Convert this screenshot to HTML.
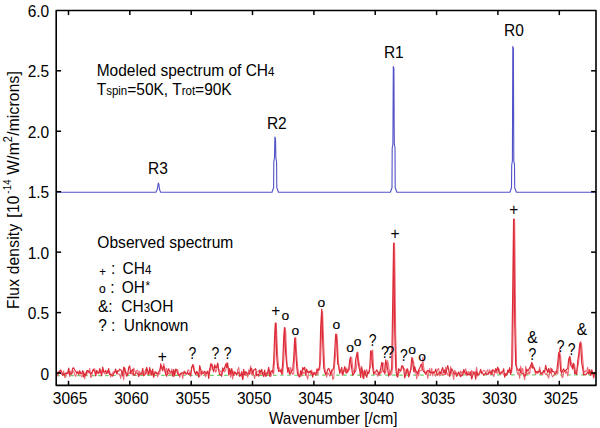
<!DOCTYPE html>
<html><head><meta charset="utf-8"><style>
html,body{margin:0;padding:0;background:#fff;}
svg{display:block;stroke-linejoin:round;font-family:"Liberation Sans",sans-serif;font-size:15.5px;fill:#000;}
</style></head><body>
<svg width="600" height="428" viewBox="0 0 600 428">
<path d="M56.2,192.2 L155.9,192.2 L157.3,189.2 L158.3,183.0 L158.9,184.5 L159.5,189.2 L160.5,192.2 L272.0,192.2 L273.6,187.7 L273.8,162.0 L274.5,158.0 L274.9,137.0 L275.5,139.0 L275.9,158.0 L276.6,162.0 L276.8,187.7 L278.5,192.2 L390.4,192.2 L392.0,187.7 L392.2,148.0 L392.9,144.0 L393.3,66.5 L393.9,68.5 L394.3,144.0 L395.0,148.0 L395.2,187.7 L396.9,192.2 L509.9,192.2 L511.5,187.7 L511.7,165.0 L512.4,161.0 L512.8,46.5 L513.4,48.5 L513.8,161.0 L514.5,165.0 L514.7,187.7 L516.4,192.2 L596.0,192.2" fill="none" stroke="#5252c8" stroke-width="1.1" stroke-linejoin="round"/>
<line x1="56.2" y1="375.6" x2="596.0" y2="374.8" stroke="#66d066" stroke-width="1.2" stroke-dasharray="3.5,3.5"/>
<path d="M56.7,373.0 L57.7,375.9 L58.7,373.0 L59.7,370.8 L60.7,373.6 L61.7,374.4 L62.7,374.7 L63.7,370.9 L64.7,377.5 L65.7,377.2 L66.7,372.9 L67.7,373.6 L68.7,371.8 L69.7,376.6 L70.7,371.1 L71.7,374.7 L72.7,371.7 L73.7,371.1 L74.7,374.8 L75.7,376.4 L76.7,372.9 L77.7,371.1 L78.7,375.0 L79.7,372.8 L80.7,373.7 L81.7,376.9 L82.7,375.8 L83.7,371.5 L84.7,378.8 L85.7,372.9 L86.7,374.9 L87.7,371.2 L88.7,372.8 L89.7,368.4 L90.7,377.5 L91.7,376.5 L92.7,369.7 L93.7,369.0 L94.7,368.7 L95.7,376.0 L96.7,371.7 L97.7,372.7 L98.7,372.1 L99.7,372.6 L100.7,370.1 L101.7,373.0 L102.7,369.2 L103.7,372.7 L104.7,373.7 L105.7,374.1 L106.7,372.3 L107.7,370.6 L108.7,373.3 L109.7,371.6 L110.7,377.0 L111.7,374.9 L112.7,372.6 L113.7,371.7 L114.7,371.1 L115.7,370.5 L116.7,372.0 L117.7,373.7 L118.7,374.2 L119.7,374.4 L120.7,378.4 L121.7,371.1 L122.7,372.9 L123.7,379.9 L124.7,368.0 L125.7,371.5 L126.7,373.3 L127.7,373.3 L128.7,374.0 L129.7,372.3 L130.7,373.9 L131.7,373.0 L132.7,374.9 L133.7,368.0 L134.7,370.6 L135.7,372.9 L136.7,370.2 L137.7,370.2 L138.7,374.5 L139.7,371.2 L140.7,374.6 L141.7,374.8 L142.7,373.7 L143.7,374.2 L144.7,372.6 L145.7,369.2 L146.7,372.8 L147.7,374.1 L148.7,371.5 L149.7,372.6 L150.7,374.8 L151.7,370.6 L152.7,374.6 L153.7,377.7 L154.7,371.5 L155.7,373.3 L156.7,372.5 L157.7,376.9 L158.7,373.6 L159.7,374.1 L160.7,366.0 L161.4,366.7 L161.7,366.3 L162.7,369.8 L163.7,363.7 L164.4,367.2 L164.7,370.7 L165.7,373.5 L166.7,368.2 L167.7,374.8 L168.7,372.6 L169.7,374.1 L170.7,373.9 L171.7,369.0 L172.7,372.3 L173.7,376.8 L174.7,371.4 L175.7,370.2 L176.7,369.4 L177.7,369.7 L178.7,373.8 L179.7,377.3 L180.7,374.0 L181.7,373.5 L182.7,378.7 L183.7,371.5 L184.7,371.1 L185.7,374.3 L186.7,374.3 L187.7,370.3 L188.7,369.9 L189.7,373.7 L190.7,373.4 L191.7,367.7 L192.7,366.0 L193.2,366.2 L193.7,365.1 L194.7,372.3 L195.7,372.4 L196.7,372.7 L197.7,372.0 L198.7,375.6 L199.7,376.5 L200.7,371.9 L201.7,375.1 L202.7,370.9 L203.7,373.1 L204.7,374.8 L205.7,376.8 L206.7,371.9 L207.7,372.7 L208.7,373.4 L209.7,368.6 L210.7,370.2 L211.7,363.7 L212.2,365.2 L212.7,366.5 L213.7,367.2 L214.7,367.3 L215.7,372.3 L216.7,369.7 L217.7,363.7 L217.9,365.7 L218.7,369.5 L219.7,370.6 L220.7,371.2 L221.7,374.1 L222.7,368.8 L223.7,371.1 L224.7,372.0 L225.7,370.3 L226.7,362.8 L226.9,363.7 L227.7,366.5 L228.7,369.2 L229.7,373.5 L230.7,377.2 L231.7,371.1 L232.7,379.1 L233.7,371.2 L234.7,372.9 L235.7,373.4 L236.7,375.6 L237.7,369.7 L238.7,367.4 L239.7,374.5 L240.7,375.0 L241.7,374.5 L242.7,379.7 L243.7,373.4 L244.7,373.6 L245.7,375.3 L246.7,373.9 L247.7,377.2 L248.7,369.7 L249.7,371.9 L250.7,365.9 L251.7,375.0 L252.7,371.9 L253.7,375.3 L254.7,378.5 L255.7,372.9 L256.7,372.2 L257.7,371.6 L258.7,370.7 L259.7,371.3 L260.7,374.6 L261.7,373.0 L262.7,373.1 L263.7,372.4 L264.7,375.3 L265.7,374.2 L266.7,372.5 L267.7,374.6 L268.7,372.5 L269.7,369.9 L270.7,376.7 L271.7,374.1 L272.7,370.4 L273.7,374.1 L274.7,359.3 L275.7,324.9 L276.2,323.1 L276.7,332.8 L277.7,356.6 L278.7,367.4 L278.9,367.2 L279.7,369.0 L280.7,371.6 L281.7,368.8 L282.7,374.3 L283.7,361.9 L284.7,334.6 L285.3,327.7 L285.7,331.8 L286.7,357.6 L287.7,372.8 L288.7,371.9 L289.7,372.8 L290.7,367.3 L291.7,371.8 L292.7,374.5 L293.7,373.3 L294.7,353.8 L295.7,337.4 L295.8,338.2 L296.7,354.4 L297.7,367.3 L298.7,374.5 L299.7,377.3 L300.7,373.0 L301.7,376.1 L302.7,371.1 L303.7,373.4 L304.7,372.7 L305.7,373.2 L306.7,375.8 L307.7,379.1 L308.7,371.2 L309.7,371.4 L310.7,374.2 L311.7,370.2 L312.7,374.2 L313.7,374.4 L314.7,372.2 L315.7,374.3 L316.7,368.9 L317.7,374.9 L318.7,368.8 L319.7,369.9 L320.7,359.2 L321.7,326.8 L322.5,311.6 L322.7,314.4 L323.7,342.9 L324.7,366.4 L325.7,373.9 L326.7,377.0 L327.7,372.9 L328.7,373.9 L329.7,376.1 L330.7,373.6 L331.7,369.6 L332.7,379.4 L333.7,378.4 L334.7,364.2 L335.7,353.6 L336.7,335.3 L336.9,334.1 L337.7,346.7 L338.7,366.8 L339.7,371.4 L340.7,370.1 L341.7,373.2 L342.7,375.6 L343.7,370.1 L344.7,370.2 L345.7,372.8 L346.7,367.9 L347.7,372.2 L348.7,370.9 L349.7,368.2 L350.7,356.6 L351.1,357.9 L351.7,357.5 L352.7,367.5 L353.7,372.2 L354.7,371.1 L355.7,371.4 L356.7,365.7 L357.7,355.6 L358.0,352.3 L358.7,360.7 L359.7,365.8 L360.7,371.3 L361.7,366.4 L362.7,377.8 L363.7,371.0 L364.7,372.8 L365.7,374.3 L366.7,369.4 L367.7,374.1 L368.7,372.8 L369.7,367.5 L370.7,366.9 L371.7,355.6 L372.1,351.1 L372.7,350.0 L373.7,370.4 L374.7,373.1 L375.7,374.1 L376.7,374.0 L377.7,376.3 L378.7,372.3 L379.7,375.2 L380.7,371.7 L381.7,372.7 L382.7,362.5 L383.3,363.3 L383.7,363.3 L384.7,374.3 L385.7,372.5 L386.7,366.0 L387.5,364.0 L387.7,360.6 L388.7,366.9 L389.7,372.9 L390.7,375.3 L391.7,373.9 L392.7,366.9 L393.7,298.9 L394.5,243.0 L394.7,250.4 L395.7,335.6 L396.7,369.7 L397.7,375.2 L398.7,373.1 L399.7,372.2 L400.7,371.0 L401.7,369.2 L402.7,367.3 L402.9,366.2 L403.7,368.8 L404.7,368.8 L405.7,373.9 L406.7,373.4 L407.7,370.3 L408.7,374.9 L409.7,372.1 L410.7,370.7 L411.7,366.4 L412.7,357.7 L412.7,360.4 L413.7,362.5 L414.7,372.7 L415.7,370.6 L416.7,378.9 L417.7,371.6 L418.7,375.9 L419.7,370.2 L420.7,370.8 L421.7,370.1 L422.2,364.3 L422.7,357.8 L423.7,367.5 L424.7,373.1 L425.7,372.5 L426.7,371.2 L427.7,378.5 L428.7,373.1 L429.7,368.6 L430.7,375.1 L431.7,368.4 L432.7,375.9 L433.7,371.4 L434.7,373.3 L435.7,376.2 L436.7,373.2 L437.7,369.3 L438.7,368.5 L439.7,376.0 L440.7,374.8 L441.7,370.8 L442.7,375.1 L443.7,374.2 L444.7,374.6 L445.7,367.0 L446.7,372.1 L447.7,375.2 L448.7,374.8 L449.7,375.2 L450.7,366.5 L451.7,373.3 L452.7,374.2 L453.7,379.5 L454.7,370.4 L455.7,372.0 L456.7,373.0 L457.7,375.2 L458.7,371.7 L459.7,375.9 L460.7,370.9 L461.7,373.6 L462.7,371.5 L463.7,373.3 L464.7,371.1 L465.7,368.7 L466.7,375.7 L467.7,373.7 L468.7,371.4 L469.7,373.4 L470.7,375.5 L471.7,370.4 L472.7,372.6 L473.7,374.3 L474.7,374.3 L475.7,372.0 L476.7,367.4 L477.7,376.1 L478.7,373.8 L479.7,372.9 L480.7,372.2 L481.7,373.6 L482.7,371.8 L483.7,370.2 L484.7,371.0 L485.7,371.3 L486.7,371.3 L487.7,369.9 L488.7,374.6 L489.7,369.5 L490.7,374.6 L491.7,370.3 L492.7,373.8 L493.7,376.5 L494.7,373.4 L495.7,371.0 L496.7,373.0 L497.7,373.3 L498.7,368.4 L499.7,371.3 L500.7,373.3 L501.7,371.7 L502.7,373.1 L503.7,374.8 L504.7,374.9 L505.7,375.3 L506.7,374.4 L507.7,372.2 L508.7,372.9 L509.7,372.2 L510.7,372.1 L511.7,372.3 L512.7,359.7 L513.7,284.5 L514.5,219.0 L514.7,223.6 L515.7,327.4 L516.7,370.7 L517.7,374.2 L518.7,372.5 L519.7,378.3 L520.7,366.1 L521.7,372.4 L522.7,368.2 L523.7,375.4 L524.7,379.8 L525.7,366.4 L526.7,373.2 L527.7,374.2 L528.7,372.1 L529.7,374.1 L530.7,365.0 L531.7,367.7 L532.5,363.4 L532.7,363.9 L533.7,368.0 L534.7,370.5 L535.7,374.5 L536.7,371.6 L537.7,373.5 L538.7,371.6 L539.7,367.1 L540.7,372.8 L541.7,373.4 L542.7,374.9 L543.7,370.6 L544.7,372.8 L545.7,374.5 L546.7,373.3 L547.7,376.1 L548.7,378.1 L549.7,370.5 L550.7,367.9 L551.7,375.1 L552.7,376.9 L553.7,375.3 L554.7,375.0 L555.7,371.3 L556.7,371.0 L557.7,374.2 L558.7,362.1 L559.7,348.3 L559.9,353.2 L560.7,356.6 L561.7,376.6 L562.7,377.7 L563.7,371.1 L564.7,371.0 L565.7,373.5 L566.7,370.9 L567.7,375.9 L568.7,368.8 L569.7,357.2 L570.4,357.1 L570.7,360.5 L571.7,363.8 L572.7,368.2 L573.7,363.1 L573.9,363.7 L574.7,365.4 L575.7,372.4 L576.7,370.9 L577.7,367.1 L578.7,361.5 L579.7,352.3 L580.7,341.5 L581.1,342.7 L581.7,345.1 L582.7,358.6 L583.7,370.2 L584.7,372.5 L585.7,370.8 L586.7,371.1 L587.7,367.4 L588.7,372.5 L589.7,374.2 L590.7,374.3 L591.7,372.6 L592.7,372.4 L593.7,375.3 L594.7,372.9" fill="none" stroke="#ee6a78" stroke-width="1.1" stroke-linejoin="round"/>
<path d="M56.7,371.7 L57.7,373.7 L58.7,371.8 L59.7,371.6 L60.7,370.0 L61.7,371.8 L62.7,375.3 L63.7,373.5 L64.7,375.1 L65.7,373.0 L66.7,373.4 L67.7,372.9 L68.7,368.1 L69.7,374.6 L70.7,373.7 L71.7,373.7 L72.7,368.0 L73.7,367.9 L74.7,370.1 L75.7,371.2 L76.7,373.2 L77.7,372.3 L78.7,373.8 L79.7,370.7 L80.7,373.2 L81.7,373.4 L82.7,370.7 L83.7,376.9 L84.7,373.8 L85.7,375.5 L86.7,370.8 L87.7,370.5 L88.7,371.5 L89.7,372.1 L90.7,374.0 L91.7,373.0 L92.7,371.2 L93.7,369.9 L94.7,371.0 L95.7,375.6 L96.7,370.3 L97.7,373.0 L98.7,373.5 L99.7,368.5 L100.7,372.5 L101.7,375.8 L102.7,367.2 L103.7,371.6 L104.7,372.1 L105.7,370.3 L106.7,373.7 L107.7,372.2 L108.7,368.6 L109.7,374.6 L110.7,374.1 L111.7,374.9 L112.7,376.1 L113.7,373.3 L114.7,372.7 L115.7,369.0 L116.7,374.0 L117.7,370.8 L118.7,371.2 L119.7,369.1 L120.7,369.9 L121.7,371.0 L122.7,375.8 L123.7,367.1 L124.7,368.6 L125.7,373.0 L126.7,376.2 L127.7,373.9 L128.7,367.5 L129.7,365.9 L130.7,373.3 L131.7,370.5 L132.7,369.5 L133.7,374.9 L134.7,375.3 L135.7,372.8 L136.7,373.0 L137.7,373.5 L138.7,376.5 L139.7,374.0 L140.7,373.7 L141.7,373.8 L142.7,368.3 L143.7,375.7 L144.7,374.9 L145.7,373.8 L146.7,367.3 L147.7,370.8 L148.7,374.6 L149.7,367.7 L150.7,371.9 L151.7,375.1 L152.7,369.0 L153.7,376.6 L154.7,373.8 L155.7,372.0 L156.7,373.2 L157.7,374.0 L158.7,371.8 L159.7,370.7 L160.5,366.7 L160.7,363.9 L161.7,368.0 L162.7,370.9 L163.5,367.2 L163.7,366.3 L164.7,368.0 L165.7,374.7 L166.7,376.2 L167.7,371.2 L168.7,368.8 L169.7,372.0 L170.7,372.0 L171.7,371.6 L172.7,376.1 L173.7,369.7 L174.7,375.7 L175.7,369.1 L176.7,370.4 L177.7,374.0 L178.7,375.3 L179.7,374.6 L180.7,373.3 L181.7,372.8 L182.7,372.8 L183.7,373.9 L184.7,371.9 L185.7,373.1 L186.7,373.9 L187.7,372.4 L188.7,374.4 L189.7,373.8 L190.7,376.1 L191.7,367.3 L192.3,366.2 L192.7,364.6 L193.7,369.2 L194.7,372.2 L195.7,374.8 L196.7,371.5 L197.7,373.4 L198.7,377.2 L199.7,365.7 L200.7,369.5 L201.7,373.0 L202.7,373.4 L203.7,373.0 L204.7,371.3 L205.7,374.1 L206.7,373.1 L207.7,371.0 L208.7,378.4 L209.7,371.0 L210.7,363.9 L211.3,365.2 L211.7,364.4 L212.7,368.7 L213.7,371.7 L214.7,364.8 L215.7,367.7 L216.7,367.5 L217.0,365.7 L217.7,363.2 L218.7,370.4 L219.7,374.7 L220.7,374.6 L221.7,376.3 L222.7,367.9 L223.7,370.8 L224.7,367.3 L225.7,364.6 L226.0,363.7 L226.7,367.5 L227.7,363.1 L228.7,375.0 L229.7,368.6 L230.7,374.2 L231.7,368.5 L232.7,372.9 L233.7,375.5 L234.7,372.0 L235.7,372.9 L236.7,374.5 L237.7,372.8 L238.7,372.2 L239.7,376.4 L240.7,375.1 L241.7,371.6 L242.7,379.4 L243.7,369.4 L244.7,374.8 L245.7,371.7 L246.7,372.7 L247.7,374.2 L248.7,373.0 L249.7,374.1 L250.7,368.4 L251.7,368.5 L252.7,374.0 L253.7,369.9 L254.7,369.7 L255.7,368.6 L256.7,375.7 L257.7,374.3 L258.7,376.2 L259.7,370.0 L260.7,372.4 L261.7,369.4 L262.7,374.4 L263.7,376.5 L264.7,370.1 L265.7,376.5 L266.7,375.0 L267.7,371.9 L268.7,367.3 L269.7,376.1 L270.7,372.1 L271.7,370.8 L272.7,372.2 L273.7,361.2 L274.7,334.9 L275.3,323.1 L275.7,323.3 L276.7,356.1 L277.7,368.1 L278.0,367.2 L278.7,371.4 L279.7,370.9 L280.7,370.4 L281.7,374.2 L282.7,363.4 L283.7,337.7 L284.4,327.7 L284.7,332.4 L285.7,353.7 L286.7,364.0 L287.7,371.3 L288.7,367.6 L289.7,374.5 L290.7,373.2 L291.7,370.7 L292.7,370.0 L293.7,358.6 L294.7,338.0 L294.9,338.2 L295.7,351.0 L296.7,366.4 L297.7,374.6 L298.7,376.3 L299.7,376.6 L300.7,370.7 L301.7,374.7 L302.7,367.5 L303.7,369.6 L304.7,367.3 L305.7,375.2 L306.7,369.2 L307.7,372.4 L308.7,371.9 L309.7,372.3 L310.7,370.9 L311.7,373.0 L312.7,377.1 L313.7,372.5 L314.7,373.8 L315.7,375.0 L316.7,371.9 L317.7,369.1 L318.7,370.0 L319.7,365.0 L320.7,326.8 L321.6,311.6 L321.7,309.2 L322.7,341.2 L323.7,367.6 L324.7,371.9 L325.7,374.5 L326.7,372.8 L327.7,369.3 L328.7,368.3 L329.7,370.7 L330.7,374.8 L331.7,370.9 L332.7,369.9 L333.7,367.6 L334.7,351.4 L335.7,334.3 L336.0,334.1 L336.7,338.4 L337.7,364.0 L338.7,365.2 L339.7,373.2 L340.7,370.7 L341.7,367.4 L342.7,374.3 L343.7,371.7 L344.7,366.6 L345.7,370.1 L346.7,373.1 L347.7,370.5 L348.7,369.3 L349.7,360.5 L350.2,357.9 L350.7,360.3 L351.7,368.2 L352.7,375.2 L353.7,374.0 L354.7,372.4 L355.7,359.0 L356.7,355.1 L357.1,352.3 L357.7,358.0 L358.7,365.7 L359.7,370.5 L360.7,377.4 L361.7,367.8 L362.7,373.6 L363.7,378.7 L364.7,370.0 L365.7,374.2 L366.7,377.3 L367.7,372.1 L368.7,373.4 L369.7,369.1 L370.7,350.8 L371.2,351.1 L371.7,352.9 L372.7,367.6 L373.7,374.1 L374.7,372.3 L375.7,371.9 L376.7,369.8 L377.7,371.5 L378.7,374.7 L379.7,372.6 L380.7,368.5 L381.7,362.6 L382.4,363.3 L382.7,369.6 L383.7,371.7 L384.7,372.6 L385.7,359.8 L386.6,364.0 L386.7,364.5 L387.7,369.1 L388.7,376.1 L389.7,373.5 L390.7,372.2 L391.7,368.5 L392.7,303.8 L393.6,243.0 L393.7,245.6 L394.7,328.7 L395.7,368.0 L396.7,375.8 L397.7,377.1 L398.7,368.7 L399.7,370.4 L400.7,370.6 L401.7,365.9 L402.0,366.2 L402.7,365.9 L403.7,368.6 L404.7,377.8 L405.7,375.1 L406.7,369.3 L407.7,368.9 L408.7,376.8 L409.7,373.9 L410.7,369.6 L411.7,358.7 L411.8,357.7 L412.7,360.5 L413.7,371.4 L414.7,366.7 L415.7,370.5 L416.7,372.2 L417.7,373.7 L418.7,369.6 L419.7,368.3 L420.7,365.4 L421.3,364.3 L421.7,364.6 L422.7,369.3 L423.7,371.7 L424.7,371.4 L425.7,374.4 L426.7,372.5 L427.7,370.3 L428.7,370.8 L429.7,372.4 L430.7,372.1 L431.7,372.8 L432.7,372.4 L433.7,372.9 L434.7,372.1 L435.7,369.1 L436.7,373.5 L437.7,375.1 L438.7,373.5 L439.7,371.9 L440.7,373.6 L441.7,369.9 L442.7,367.5 L443.7,372.6 L444.7,370.0 L445.7,374.3 L446.7,369.6 L447.7,365.6 L448.7,369.7 L449.7,376.5 L450.7,371.4 L451.7,368.8 L452.7,370.4 L453.7,373.8 L454.7,373.7 L455.7,372.9 L456.7,376.3 L457.7,374.2 L458.7,372.3 L459.7,374.0 L460.7,376.7 L461.7,374.9 L462.7,375.1 L463.7,369.6 L464.7,372.0 L465.7,374.3 L466.7,371.6 L467.7,375.2 L468.7,374.0 L469.7,374.8 L470.7,371.8 L471.7,379.0 L472.7,375.6 L473.7,371.8 L474.7,372.6 L475.7,379.1 L476.7,371.5 L477.7,374.7 L478.7,374.9 L479.7,372.4 L480.7,369.4 L481.7,372.9 L482.7,373.3 L483.7,375.3 L484.7,374.4 L485.7,372.5 L486.7,374.6 L487.7,373.8 L488.7,372.9 L489.7,372.5 L490.7,371.8 L491.7,374.2 L492.7,369.7 L493.7,370.8 L494.7,372.4 L495.7,368.6 L496.7,371.3 L497.7,367.2 L498.7,370.6 L499.7,373.9 L500.7,373.9 L501.7,372.3 L502.7,371.8 L503.7,368.7 L504.7,377.2 L505.7,373.7 L506.7,375.2 L507.7,370.1 L508.7,371.9 L509.7,367.7 L510.7,374.3 L511.7,368.6 L512.7,292.2 L513.6,219.0 L513.7,219.0 L514.7,321.3 L515.7,364.8 L516.7,367.6 L517.7,369.6 L518.7,370.8 L519.7,368.8 L520.7,372.5 L521.7,373.0 L522.7,374.0 L523.7,374.2 L524.7,376.3 L525.7,375.4 L526.7,369.0 L527.7,371.1 L528.7,369.5 L529.7,367.9 L530.7,365.4 L531.6,363.4 L531.7,362.3 L532.7,368.1 L533.7,367.1 L534.7,369.1 L535.7,372.3 L536.7,371.9 L537.7,371.6 L538.7,372.2 L539.7,370.4 L540.7,374.2 L541.7,373.3 L542.7,372.2 L543.7,370.7 L544.7,371.9 L545.7,365.4 L546.7,369.8 L547.7,372.5 L548.7,368.5 L549.7,372.9 L550.7,372.8 L551.7,368.8 L552.7,371.7 L553.7,371.6 L554.7,373.6 L555.7,374.0 L556.7,371.5 L557.7,363.0 L558.7,352.7 L559.0,353.2 L559.7,357.2 L560.7,370.9 L561.7,372.9 L562.7,370.5 L563.7,368.9 L564.7,371.4 L565.7,370.5 L566.7,369.2 L567.7,368.8 L568.7,359.1 L569.5,357.1 L569.7,356.5 L570.7,365.4 L571.7,366.4 L572.7,369.0 L573.0,363.7 L573.7,364.2 L574.7,373.6 L575.7,372.5 L576.7,374.5 L577.7,361.4 L578.7,354.6 L579.7,344.3 L580.2,342.7 L580.7,345.3 L581.7,362.6 L582.7,368.4 L583.7,374.9 L584.7,374.3 L585.7,374.9 L586.7,373.7 L587.7,372.0 L588.7,373.7 L589.7,369.6 L590.7,375.5 L591.7,369.8 L592.7,373.0 L593.7,377.9 L594.7,371.8" fill="none" stroke="#dc2a36" stroke-width="1.2" stroke-linejoin="round"/>
<rect x="56.2" y="10.5" width="539.8" height="374.9" fill="none" stroke="#000" stroke-width="1.6"/>
<line x1="68.5" y1="10.5" x2="68.5" y2="15.1" stroke="#000" stroke-width="1.5"/>
<line x1="68.5" y1="385.4" x2="68.5" y2="380.79999999999995" stroke="#000" stroke-width="1.5"/>
<line x1="129.8" y1="10.5" x2="129.8" y2="15.1" stroke="#000" stroke-width="1.5"/>
<line x1="129.8" y1="385.4" x2="129.8" y2="380.79999999999995" stroke="#000" stroke-width="1.5"/>
<line x1="191.2" y1="10.5" x2="191.2" y2="15.1" stroke="#000" stroke-width="1.5"/>
<line x1="191.2" y1="385.4" x2="191.2" y2="380.79999999999995" stroke="#000" stroke-width="1.5"/>
<line x1="252.5" y1="10.5" x2="252.5" y2="15.1" stroke="#000" stroke-width="1.5"/>
<line x1="252.5" y1="385.4" x2="252.5" y2="380.79999999999995" stroke="#000" stroke-width="1.5"/>
<line x1="313.9" y1="10.5" x2="313.9" y2="15.1" stroke="#000" stroke-width="1.5"/>
<line x1="313.9" y1="385.4" x2="313.9" y2="380.79999999999995" stroke="#000" stroke-width="1.5"/>
<line x1="375.2" y1="10.5" x2="375.2" y2="15.1" stroke="#000" stroke-width="1.5"/>
<line x1="375.2" y1="385.4" x2="375.2" y2="380.79999999999995" stroke="#000" stroke-width="1.5"/>
<line x1="436.6" y1="10.5" x2="436.6" y2="15.1" stroke="#000" stroke-width="1.5"/>
<line x1="436.6" y1="385.4" x2="436.6" y2="380.79999999999995" stroke="#000" stroke-width="1.5"/>
<line x1="497.9" y1="10.5" x2="497.9" y2="15.1" stroke="#000" stroke-width="1.5"/>
<line x1="497.9" y1="385.4" x2="497.9" y2="380.79999999999995" stroke="#000" stroke-width="1.5"/>
<line x1="559.3" y1="10.5" x2="559.3" y2="15.1" stroke="#000" stroke-width="1.5"/>
<line x1="559.3" y1="385.4" x2="559.3" y2="380.79999999999995" stroke="#000" stroke-width="1.5"/>
<text transform="translate(49.20,17.00) scale(1,1.08)" text-anchor="end">6.0</text>
<line x1="56.2" y1="70.80" x2="61.1" y2="70.80" stroke="#000" stroke-width="1.5"/>
<line x1="596.0" y1="70.80" x2="591.1" y2="70.80" stroke="#000" stroke-width="1.5"/>
<text transform="translate(49.20,77.30) scale(1,1.08)" text-anchor="end">2.5</text>
<line x1="56.2" y1="131.25" x2="61.1" y2="131.25" stroke="#000" stroke-width="1.5"/>
<line x1="596.0" y1="131.25" x2="591.1" y2="131.25" stroke="#000" stroke-width="1.5"/>
<text transform="translate(49.20,137.75) scale(1,1.08)" text-anchor="end">2.0</text>
<line x1="56.2" y1="191.70" x2="61.1" y2="191.70" stroke="#000" stroke-width="1.5"/>
<line x1="596.0" y1="191.70" x2="591.1" y2="191.70" stroke="#000" stroke-width="1.5"/>
<text transform="translate(49.20,198.20) scale(1,1.08)" text-anchor="end">1.5</text>
<line x1="56.2" y1="252.15" x2="61.1" y2="252.15" stroke="#000" stroke-width="1.5"/>
<line x1="596.0" y1="252.15" x2="591.1" y2="252.15" stroke="#000" stroke-width="1.5"/>
<text transform="translate(49.20,258.65) scale(1,1.08)" text-anchor="end">1.0</text>
<line x1="56.2" y1="312.60" x2="61.1" y2="312.60" stroke="#000" stroke-width="1.5"/>
<line x1="596.0" y1="312.60" x2="591.1" y2="312.60" stroke="#000" stroke-width="1.5"/>
<text transform="translate(49.20,319.10) scale(1,1.08)" text-anchor="end">0.5</text>
<line x1="56.2" y1="373.05" x2="61.1" y2="373.05" stroke="#000" stroke-width="1.5"/>
<line x1="596.0" y1="373.05" x2="591.1" y2="373.05" stroke="#000" stroke-width="1.5"/>
<text transform="translate(49.20,379.55) scale(1,1.08)" text-anchor="end">0</text>
<text transform="translate(70.10,403.60) scale(1,1.08)" text-anchor="middle">3065</text>
<text transform="translate(131.45,403.60) scale(1,1.08)" text-anchor="middle">3060</text>
<text transform="translate(192.80,403.60) scale(1,1.08)" text-anchor="middle">3055</text>
<text transform="translate(254.15,403.60) scale(1,1.08)" text-anchor="middle">3050</text>
<text transform="translate(315.50,403.60) scale(1,1.08)" text-anchor="middle">3045</text>
<text transform="translate(376.85,403.60) scale(1,1.08)" text-anchor="middle">3040</text>
<text transform="translate(438.20,403.60) scale(1,1.08)" text-anchor="middle">3035</text>
<text transform="translate(499.55,403.60) scale(1,1.08)" text-anchor="middle">3030</text>
<text transform="translate(560.90,403.60) scale(1,1.08)" text-anchor="middle">3025</text>
<text transform="translate(268.90,424.40) scale(1,1.08)" textLength="128.6" lengthAdjust="spacingAndGlyphs">Wavenumber [/cm]</text>
<text transform="translate(18.9,309.0) rotate(-90) scale(1.0,1.08)" xml:space="preserve" textLength="237.8">Flux density <tspan dx="1.5">[10</tspan><tspan dy="-7.2" dx="1.8" font-size="9.5">-14</tspan><tspan dy="7.2"> W/m</tspan><tspan dy="-6.5" font-size="11">2</tspan><tspan dy="6.5">/microns]</tspan></text>
<text transform="translate(158.00,173.50) scale(1,1.08)" text-anchor="middle">R3</text>
<text transform="translate(276.80,128.80) scale(1,1.08)" text-anchor="middle">R2</text>
<text transform="translate(393.80,58.00) scale(1,1.08)" text-anchor="middle">R1</text>
<text transform="translate(513.90,36.30) scale(1,1.08)" text-anchor="middle">R0</text>
<text transform="translate(96.70,76.00) scale(1,1.08)">Modeled spectrum of CH<tspan font-size="11.5">4</tspan></text>
<text transform="translate(96.70,94.60) scale(1,1.08)">T<tspan font-size="11.5">spin</tspan>=50K, T<tspan font-size="11.5">rot</tspan>=90K</text>
<text transform="translate(97.30,248.20) scale(1,1.08)" textLength="136" lengthAdjust="spacingAndGlyphs">Observed spectrum</text>
<text transform="translate(102.50,275.80) scale(1,1.08)" text-anchor="middle" font-size="11.5">+</text><text transform="translate(111.00,274.40) scale(1,1.08)">:</text><text transform="translate(122.60,274.40) scale(1,1.08)">CH<tspan font-size="11.5">4</tspan></text>
<text transform="translate(102.30,292.60) scale(1,1.0)" text-anchor="middle" font-size="12" stroke="#000" stroke-width="0.15">o</text><text transform="translate(110.30,293.20) scale(1,1.08)">:</text><text transform="translate(121.80,293.20) scale(1,1.08)">OH<tspan font-size="11.5" dy="-2.9" dx="0.5">*</tspan></text>
<text transform="translate(98.00,311.90) scale(1,1.08)">&amp;:</text><text transform="translate(121.30,311.90) scale(1,1.08)">CH<tspan font-size="11.5">3</tspan>OH</text>
<text transform="translate(98.30,331.00) scale(1,1.08)">?</text><text transform="translate(111.00,331.00) scale(1,1.08)">:</text><text transform="translate(123.80,331.00) scale(1,1.08)">Unknown</text>
<text transform="translate(162.20,362.15) scale(1.0,1.08)" text-anchor="middle" font-size="15.5">+</text>
<text transform="translate(192.50,359.40) scale(0.9,1.08)" text-anchor="middle" font-size="15.5">?</text>
<text transform="translate(215.40,359.20) scale(0.9,1.08)" text-anchor="middle" font-size="15.5">?</text>
<text transform="translate(227.60,359.20) scale(0.9,1.08)" text-anchor="middle" font-size="15.5">?</text>
<text transform="translate(275.80,315.55) scale(1.0,1.08)" text-anchor="middle" font-size="15.5">+</text>
<text transform="translate(285.30,319.57) scale(1.1,0.97)" text-anchor="middle" font-size="12.6" stroke="#000" stroke-width="0.15">o</text>
<text transform="translate(295.30,334.57) scale(1.1,0.97)" text-anchor="middle" font-size="12.6" stroke="#000" stroke-width="0.15">o</text>
<text transform="translate(321.35,307.42) scale(1.1,0.97)" text-anchor="middle" font-size="12.6" stroke="#000" stroke-width="0.15">o</text>
<text transform="translate(336.30,328.87) scale(1.1,0.97)" text-anchor="middle" font-size="12.6" stroke="#000" stroke-width="0.15">o</text>
<text transform="translate(350.10,352.27) scale(1.1,0.97)" text-anchor="middle" font-size="12.6" stroke="#000" stroke-width="0.15">o</text>
<text transform="translate(357.70,346.37) scale(1.1,0.97)" text-anchor="middle" font-size="12.6" stroke="#000" stroke-width="0.15">o</text>
<text transform="translate(372.60,345.70) scale(0.9,1.08)" text-anchor="middle" font-size="15.5">?</text>
<text transform="translate(386.60,358.20) scale(0.9,1.08)" text-anchor="middle" font-size="15.5" letter-spacing="-2.4">??</text>
<text transform="translate(395.00,239.05) scale(1.0,1.08)" text-anchor="middle" font-size="15.5">+</text>
<text transform="translate(403.95,361.05) scale(0.9,1.08)" text-anchor="middle" font-size="15.5">?</text>
<text transform="translate(412.20,353.67) scale(1.1,0.97)" text-anchor="middle" font-size="12.6" stroke="#000" stroke-width="0.15">o</text>
<text transform="translate(422.10,360.87) scale(1.1,0.97)" text-anchor="middle" font-size="12.6" stroke="#000" stroke-width="0.15">o</text>
<text transform="translate(513.70,214.65) scale(1.0,1.08)" text-anchor="middle" font-size="15.5">+</text>
<text transform="translate(532.50,343.03) scale(1.0,1.08)" text-anchor="middle" font-size="15.5">&amp;</text>
<text transform="translate(532.30,359.60) scale(0.9,1.08)" text-anchor="middle" font-size="15.5">?</text>
<text transform="translate(560.70,351.70) scale(0.9,1.08)" text-anchor="middle" font-size="15.5">?</text>
<text transform="translate(571.60,354.50) scale(0.9,1.08)" text-anchor="middle" font-size="15.5">?</text>
<text transform="translate(581.85,335.13) scale(1.0,1.08)" text-anchor="middle" font-size="15.5">&amp;</text>
</svg>
</body></html>
